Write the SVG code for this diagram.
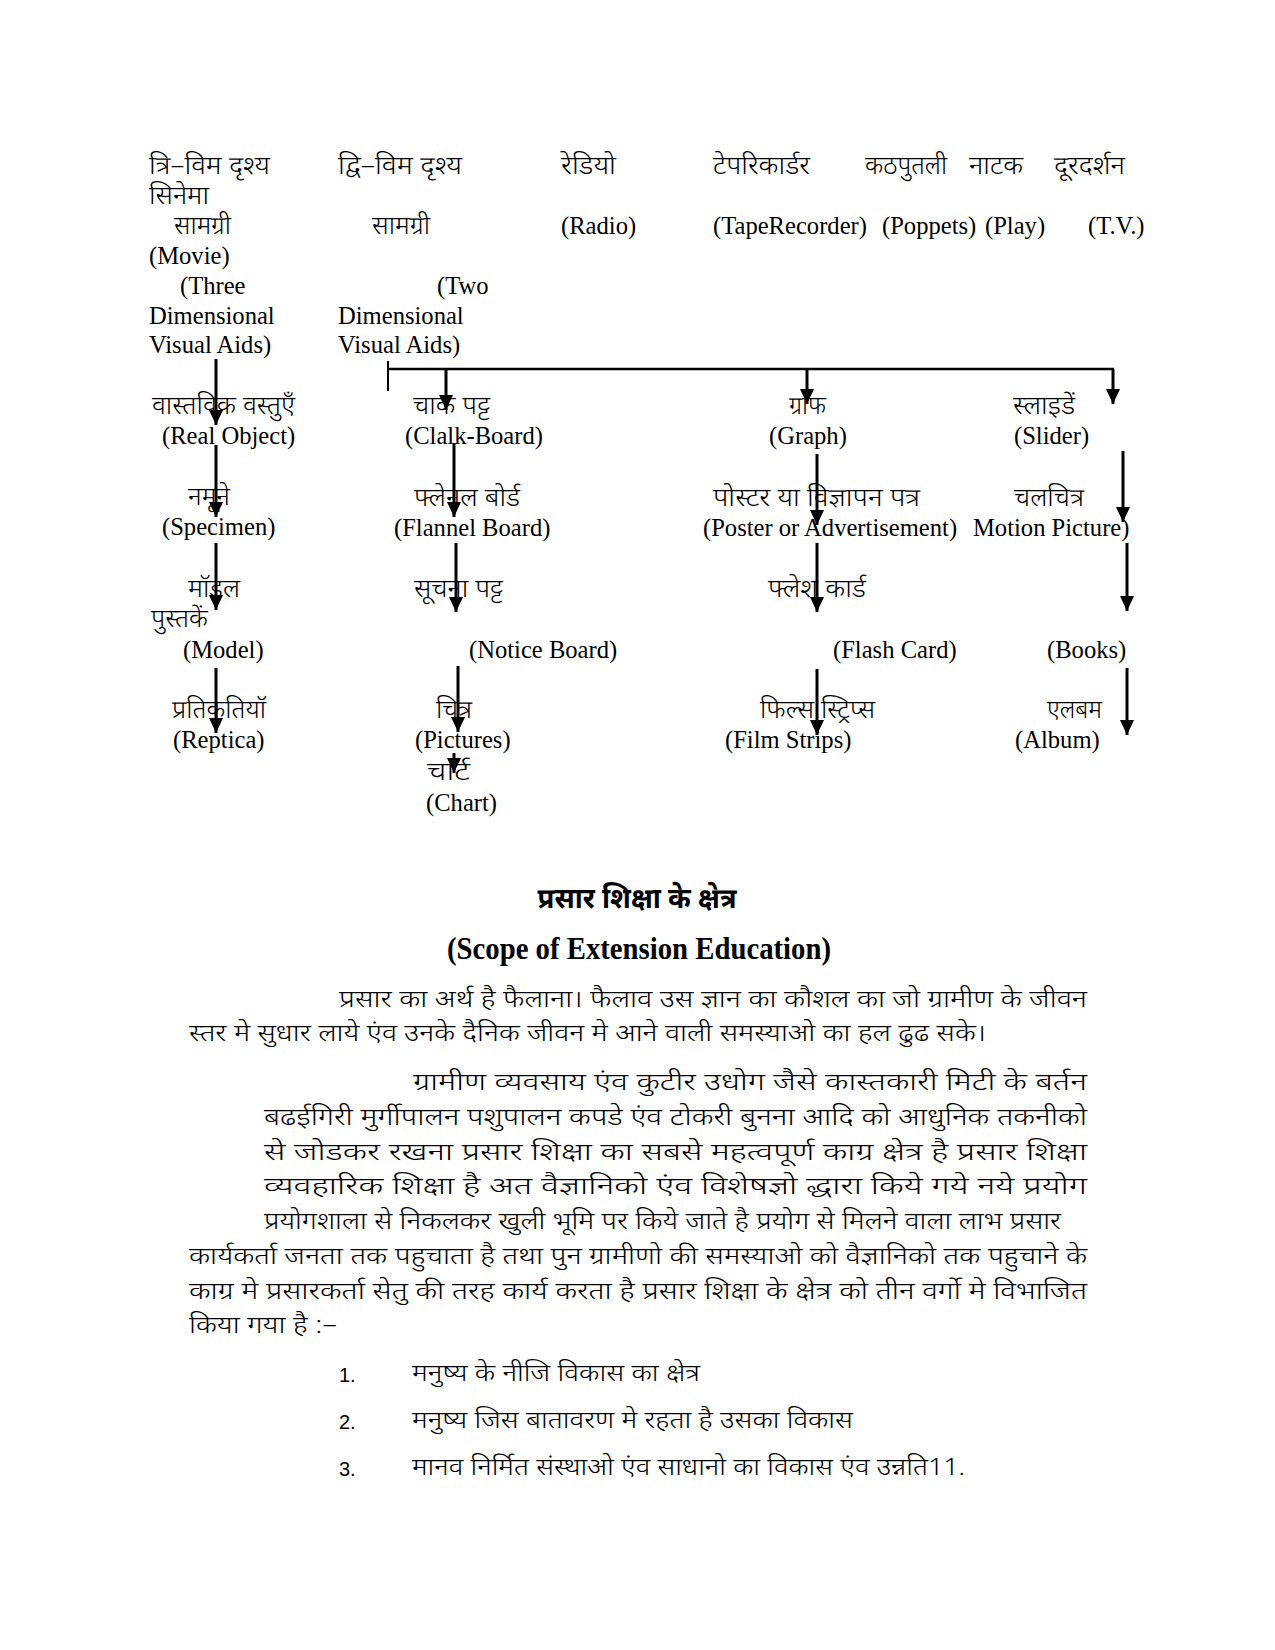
<svg xmlns="http://www.w3.org/2000/svg" width="1275" height="1650" viewBox="0 0 1275 1650">
<defs>
<style>
.t{font-family:"Liberation Serif","Noto Serif Devanagari","Noto Sans Devanagari","Lohit Devanagari","Mangal",serif;font-size:24.6px;fill:#000}
.d{font-family:"Noto Sans Devanagari","Lohit Devanagari","Mangal","Noto Serif Devanagari","Liberation Serif",sans-serif;font-size:25px;font-weight:300;fill:#000}
.p{font-family:"Noto Sans Devanagari","Lohit Devanagari","Mangal","Liberation Sans",sans-serif;font-size:24px;font-weight:300;fill:#000}
.n{font-family:"Liberation Sans",Arial,sans-serif;font-size:20px;fill:#000}
.h{font-family:"Noto Sans Devanagari","Lohit Devanagari","Mangal","Liberation Sans",sans-serif;font-size:28px;font-weight:bold;fill:#000}
.hb{font-family:"Liberation Serif",serif;font-size:31px;font-weight:bold;fill:#000}
.c{stroke:#000;stroke-width:3;fill:none}
</style>
<marker id="ah" markerUnits="userSpaceOnUse" markerWidth="15" markerHeight="14" refX="15" refY="7" orient="auto">
<path d="M0,0 L15,7 L0,14 z" fill="#000"/>
</marker>
</defs>
<rect width="1275" height="1650" fill="#fff"/>

<g id="header-3d">
<text class="d" x="149" y="174" textLength="121" lengthAdjust="spacingAndGlyphs">त्रि–विम दृश्य</text>
<text class="d" x="149" y="204" textLength="60" lengthAdjust="spacingAndGlyphs">सिनेमा</text>
<text class="d" x="174" y="234" textLength="57" lengthAdjust="spacingAndGlyphs">सामग्री</text>
<text class="t" x="149" y="264">(Movie)</text>
<text class="t" x="180" y="294">(Three</text>
<text class="t" x="149" y="324">Dimensional</text>
<text class="t" x="149" y="353">Visual Aids)</text>
</g>
<g id="header-2d">
<text class="d" x="338" y="174" textLength="124" lengthAdjust="spacingAndGlyphs">द्वि–विम दृश्य</text>
<text class="d" x="372" y="234" textLength="58" lengthAdjust="spacingAndGlyphs">सामग्री</text>
<text class="t" x="437" y="294">(Two</text>
<text class="t" x="338" y="324">Dimensional</text>
<text class="t" x="338" y="353">Visual Aids)</text>
</g>
<g id="header-radio">
<text class="d" x="561" y="174" textLength="55" lengthAdjust="spacingAndGlyphs">रेडियो</text>
<text class="t" x="561" y="234">(Radio)</text>
</g>
<g id="header-tape">
<text class="d" x="713" y="174" textLength="97" lengthAdjust="spacingAndGlyphs">टेपरिकार्डर</text>
<text class="t" x="713" y="234">(TapeRecorder)</text>
</g>
<g id="header-puppets">
<text class="d" x="865" y="174" textLength="82" lengthAdjust="spacingAndGlyphs">कठपुतली</text>
<text class="t" x="882" y="234">(Poppets)</text>
</g>
<g id="header-play">
<text class="d" x="969" y="174" textLength="54" lengthAdjust="spacingAndGlyphs">नाटक</text>
<text class="t" x="985" y="234">(Play)</text>
</g>
<g id="header-tv">
<text class="d" x="1054" y="174" textLength="71" lengthAdjust="spacingAndGlyphs">दूरदर्शन</text>
<text class="t" x="1088" y="234">(T.V.)</text>
</g>

<g id="real-object"><text class="d" x="152" y="414" textLength="143" lengthAdjust="spacingAndGlyphs">वास्तविक वस्तुएँ</text><text class="t" x="162" y="444">(Real Object)</text></g>
<g id="specimen"><text class="d" x="188" y="505" textLength="42" lengthAdjust="spacingAndGlyphs">नमूने</text><text class="t" x="162" y="535">(Specimen)</text></g>
<g id="model"><text class="d" x="188" y="597" textLength="52" lengthAdjust="spacingAndGlyphs">मॉडल</text><text class="d" x="151" y="627" textLength="57" lengthAdjust="spacingAndGlyphs">पुस्तकें</text><text class="t" x="183" y="658">(Model)</text></g>
<g id="replica"><text class="d" x="172" y="718" textLength="94" lengthAdjust="spacingAndGlyphs">प्रतिकृतियॉ</text><text class="t" x="173" y="748">(Reptica)</text></g>

<g id="chalk-board"><text class="d" x="413" y="414" textLength="77" lengthAdjust="spacingAndGlyphs">चाक पट्ट</text><text class="t" x="405" y="444">(Clalk-Board)</text></g>
<g id="flannel-board"><text class="d" x="414" y="506" textLength="106" lengthAdjust="spacingAndGlyphs">फ्लेनल बोर्ड</text><text class="t" x="394" y="536">(Flannel Board)</text></g>
<g id="notice-board"><text class="d" x="414" y="597" textLength="89" lengthAdjust="spacingAndGlyphs">सूचना पट्ट</text><text class="t" x="469" y="658">(Notice Board)</text></g>
<g id="pictures"><text class="d" x="436" y="718" textLength="36" lengthAdjust="spacingAndGlyphs">चित्र</text><text class="t" x="415" y="748">(Pictures)</text></g>
<g id="chart"><text class="d" x="427" y="780" textLength="43" lengthAdjust="spacingAndGlyphs">चार्ट</text><text class="t" x="426" y="811">(Chart)</text></g>

<g id="graph"><text class="d" x="789" y="414" textLength="37" lengthAdjust="spacingAndGlyphs">ग्राफ</text><text class="t" x="769" y="444">(Graph)</text></g>
<g id="poster"><text class="d" x="713" y="506" textLength="207" lengthAdjust="spacingAndGlyphs">पोस्टर या विज्ञापन पत्र</text><text class="t" x="703" y="536">(Poster or Advertisement)</text></g>
<g id="flash-card"><text class="d" x="768" y="597" textLength="98" lengthAdjust="spacingAndGlyphs">फ्लेश कार्ड</text><text class="t" x="833" y="658">(Flash Card)</text></g>
<g id="film-strips"><text class="d" x="760" y="718" textLength="115" lengthAdjust="spacingAndGlyphs">फिल्स स्ट्रिप्स</text><text class="t" x="725" y="748">(Film Strips)</text></g>

<g id="slides"><text class="d" x="1013" y="414" textLength="62" lengthAdjust="spacingAndGlyphs">स्लाइडें</text><text class="t" x="1014" y="444">(Slider)</text></g>
<g id="motion-picture"><text class="d" x="1014" y="506" textLength="70" lengthAdjust="spacingAndGlyphs">चलचित्र</text><text class="t" x="973" y="536">Motion Picture)</text></g>
<g id="books"><text class="t" x="1047" y="658">(Books)</text></g>
<g id="album"><text class="d" x="1047" y="718" textLength="55" lengthAdjust="spacingAndGlyphs">एलबम</text><text class="t" x="1015" y="748">(Album)</text></g>

<g id="connectors">
<line class="c" x1="216" y1="359" x2="216" y2="425" marker-end="url(#ah)"/>
<line class="c" x1="216" y1="445" x2="216" y2="517" marker-end="url(#ah)"/>
<line class="c" x1="216" y1="543" x2="216" y2="610" marker-end="url(#ah)"/>
<line class="c" x1="216" y1="668" x2="216" y2="733" marker-end="url(#ah)"/>
<line class="c" x1="388" y1="361" x2="388" y2="391" style="stroke-width:2"/>
<line class="c" x1="387" y1="369" x2="1114" y2="369" style="stroke-width:2.5"/>
<line class="c" x1="446" y1="369" x2="446" y2="410" marker-end="url(#ah)"/>
<line class="c" x1="807" y1="369" x2="807" y2="404" marker-end="url(#ah)"/>
<line class="c" x1="1113" y1="369" x2="1113" y2="404" marker-end="url(#ah)"/>
<line class="c" x1="454" y1="443" x2="454" y2="517" marker-end="url(#ah)"/>
<line class="c" x1="456" y1="543" x2="456" y2="612" marker-end="url(#ah)"/>
<line class="c" x1="458" y1="666" x2="458" y2="732" marker-end="url(#ah)"/>
<line class="c" x1="454" y1="753" x2="454" y2="773" marker-end="url(#ah)"/>
<line class="c" x1="817" y1="454" x2="817" y2="525" marker-end="url(#ah)"/>
<line class="c" x1="817" y1="543" x2="817" y2="612" marker-end="url(#ah)"/>
<line class="c" x1="817" y1="669" x2="817" y2="735" marker-end="url(#ah)"/>
<line class="c" x1="1123" y1="451" x2="1123" y2="522" marker-end="url(#ah)"/>
<line class="c" x1="1127" y1="543" x2="1127" y2="611" marker-end="url(#ah)"/>
<line class="c" x1="1127" y1="668" x2="1127" y2="735" marker-end="url(#ah)"/>
</g>

<g id="scope-heading">
<text class="h" x="637" y="908" text-anchor="middle" textLength="199" lengthAdjust="spacingAndGlyphs">प्रसार शिक्षा के क्षेत्र</text>
<text class="hb" x="639" y="959" text-anchor="middle" textLength="384" lengthAdjust="spacingAndGlyphs">(Scope of Extension Education)</text>
</g>

<g id="scope-text">
<text class="p" x="339" y="1007" textLength="748" lengthAdjust="spacingAndGlyphs">प्रसार का अर्थ है फैलाना। फैलाव उस ज्ञान का कौशल का जो ग्रामीण के जीवन</text>
<text class="p" x="189" y="1041" textLength="797" lengthAdjust="spacingAndGlyphs">स्तर मे सुधार लाये एंव उनके दैनिक जीवन मे आने वाली  समस्याओ का हल ढुढ सके।</text>
<text class="p" x="413" y="1090" textLength="674" lengthAdjust="spacingAndGlyphs">ग्रामीण व्यवसाय एंव कुटीर उधोग जैसे कास्तकारी मिटी के बर्तन</text>
<text class="p" x="264" y="1125" textLength="823" lengthAdjust="spacingAndGlyphs">बढईगिरी मुर्गीपालन पशुपालन कपडे एंव टोकरी बुनना आदि को आधुनिक तकनीको</text>
<text class="p" x="264" y="1160" textLength="823" lengthAdjust="spacingAndGlyphs">से   जोडकर रखना प्रसार शिक्षा का सबसे महत्वपूर्ण काग्र क्षेत्र है प्रसार शिक्षा</text>
<text class="p" x="264" y="1194" textLength="823" lengthAdjust="spacingAndGlyphs">व्यवहारिक शिक्षा है अत वैज्ञानिको एंव विशेषज्ञो द्धारा किये गये नये प्रयोग</text>
<text class="p" x="264" y="1229" textLength="797" lengthAdjust="spacingAndGlyphs">प्रयोगशाला से निकलकर खुली भूमि पर किये जाते है प्रयोग से मिलने वाला लाभ प्रसार</text>
<text class="p" x="189" y="1264" textLength="898" lengthAdjust="spacingAndGlyphs">कार्यकर्ता जनता तक पहुचाता है तथा पुन ग्रामीणो की समस्याओ को वैज्ञानिको तक पहुचाने के</text>
<text class="p" x="189" y="1299" textLength="898" lengthAdjust="spacingAndGlyphs">काग्र मे प्रसारकर्ता सेतु की तरह कार्य करता है प्रसार शिक्षा के क्षेत्र को तीन वर्गो मे विभाजित</text>
<text class="p" x="189" y="1333" textLength="148" lengthAdjust="spacingAndGlyphs">किया गया है :–</text>
</g>

<g id="scope-list">
<text class="n" x="339" y="1382">1.</text>
<text class="p" x="412" y="1381" textLength="288" lengthAdjust="spacingAndGlyphs">मनुष्य के नीजि विकास का क्षेत्र</text>
<text class="n" x="339" y="1429">2.</text>
<text class="p" x="412" y="1428" textLength="441" lengthAdjust="spacingAndGlyphs">मनुष्य जिस बातावरण मे रहता है उसका विकास</text>
<text class="n" x="339" y="1476">3.</text>
<text class="p" x="412" y="1475" textLength="553" lengthAdjust="spacingAndGlyphs">मानव निर्मित संस्थाओ एंव साधानो का विकास एंव उन्नति11.</text>
</g>
</svg>
